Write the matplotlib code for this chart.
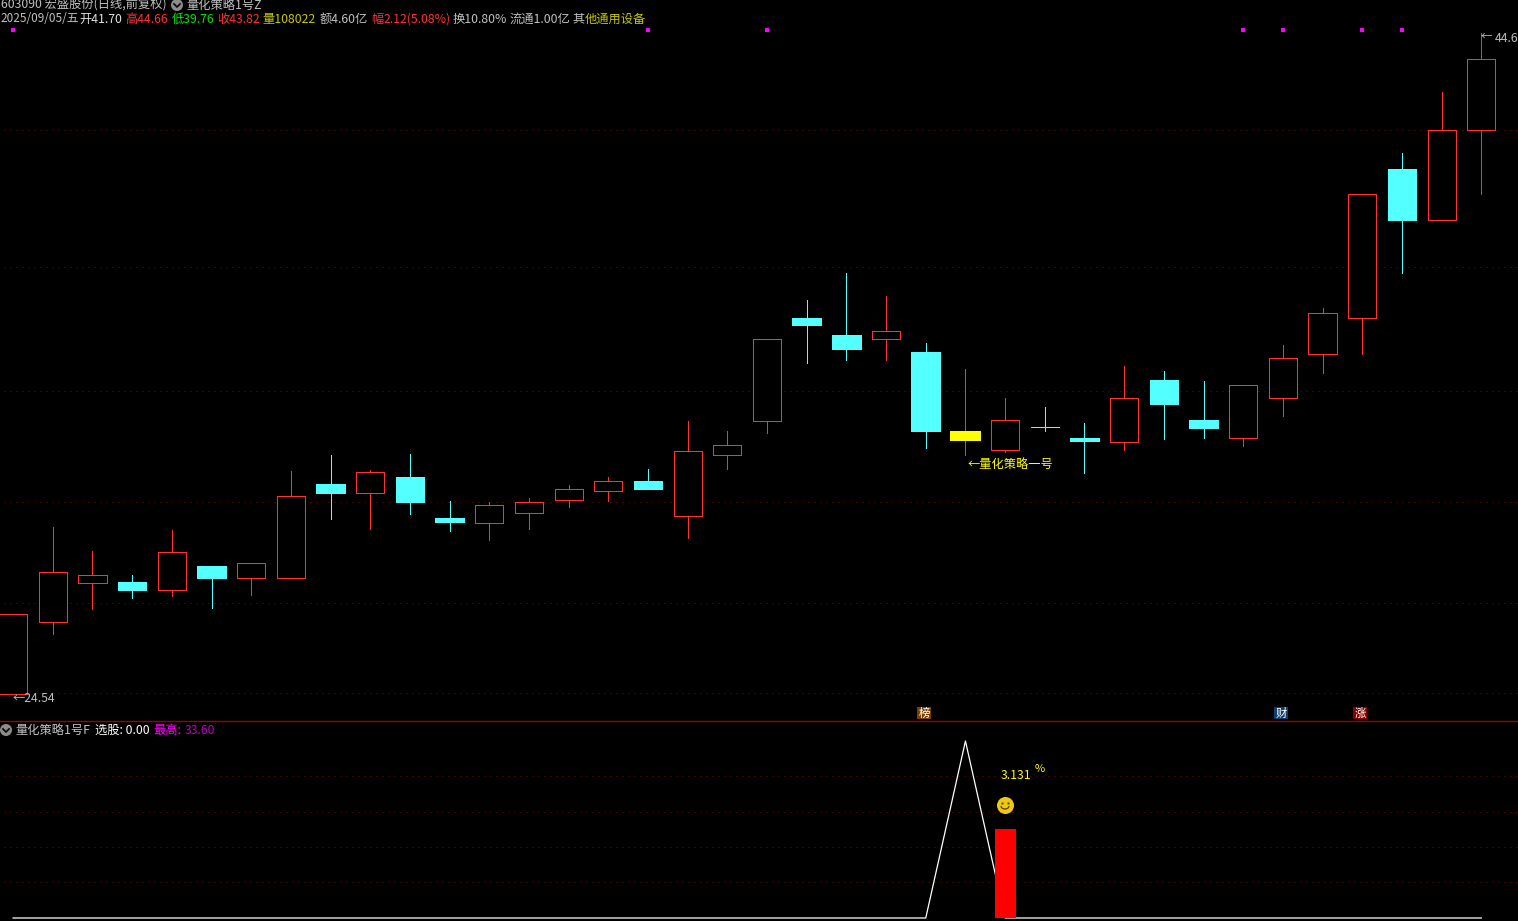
import matplotlib
matplotlib.use('Agg')
import matplotlib.pyplot as plt
from matplotlib.patches import Circle, Arc

plt.rcParams['font.family'] = ['Noto Sans CJK SC', 'DejaVu Sans']

# K线数据
opens = [24.54, 26.19, 27.13, 27.16, 26.96, 27.55, 27.26, 27.26, 29.68, 29.43,
         29.87, 28.78, 28.65, 28.91, 29.25, 29.49, 29.76, 28.83, 30.47, 31.43,
         34.50, 33.97, 33.84, 33.45, 30.86, 30.60, 31.25, 30.94, 30.83, 32.61,
         31.45, 30.94, 32.08, 33.39, 34.50, 39.49, 37.71, 40.91]
closes = [26.39, 27.40, 27.33, 26.96, 27.90, 27.26, 27.63, 29.35, 29.43, 30.00,
          29.20, 28.67, 29.11, 29.20, 29.54, 29.76, 29.54, 30.58, 30.74, 33.84,
          34.28, 33.54, 34.09, 31.14, 31.14, 31.45, 31.24, 30.86, 32.08, 31.90,
          31.22, 32.46, 33.27, 34.65, 38.60, 37.71, 40.91, 43.63]
highs = [26.39, 28.54, 27.93, 27.33, 28.47, 27.55, 27.63, 30.03, 30.47, 30.06,
         30.50, 29.22, 29.20, 29.30, 29.65, 29.87, 30.09, 31.43, 31.14, 33.84,
         35.06, 35.94, 35.19, 33.72, 32.94, 32.08, 31.82, 31.37, 33.03, 32.88,
         32.58, 32.46, 33.66, 34.81, 38.60, 40.06, 42.34, 44.66]
lows = [24.54, 25.90, 26.50, 26.76, 26.81, 26.52, 26.83, 27.26, 28.75, 28.49,
        28.88, 28.44, 28.21, 28.49, 29.07, 29.22, 29.54, 28.26, 30.09, 31.08,
        33.12, 33.21, 33.21, 30.66, 30.47, 30.55, 31.14, 29.98, 30.60, 30.91,
        30.94, 30.71, 31.57, 32.82, 33.39, 35.94, 37.71, 38.60]
yellow_days = [24]
dot_days = [0, 16, 19, 31, 32, 34, 35]
dot_price = 44.78
price_grid = [40.91, 36.12, 32.29, 29.20, 26.64, 24.55]

# 副图
pick_line = [0] * 38
pick_line[24] = 33.60
bar_day = 25
bar_value = 16.9
smile_value = 21.45
sub_grid = [26.96, 20.12, 13.48, 6.83]

RED = '#FF3232'
CYAN = '#54FFFF'
GRID = '#8A0000'
GRAY = '#C0C0C0'
OLIVE = '#C8C800'
W, H = 1518, 921
xlim = (-0.33, 37.925)
days = list(range(len(opens)))

fig = plt.figure(figsize=(W / 100, H / 100), dpi=100, facecolor='black')
ax = fig.add_axes([0, 1 - 721 / H, 1, 721 / H], facecolor='black')
sub = fig.add_axes([0, 0, 1, 200 / H], facecolor='black')
top = fig.add_axes([0, 0, 1, 1], facecolor='none')
top.set_xlim(0, W)
top.set_ylim(H, 0)
top.axis('off')

ax.set_yscale('log')
ax.set_xlim(*xlim)
ax.set_ylim(23.94, 46.02)
ax.axis('off')
sub.set_xlim(*xlim)
sub.set_ylim(-0.57, 37.4)
sub.axis('off')

dots = (0, (1, 5))
for p in price_grid:
    ax.plot([-0.24, xlim[1]], [p, p], color=GRID, lw=0.72, ls=dots, zorder=1)
for v in sub_grid:
    sub.plot([-0.24, xlim[1]], [v, v], color=GRID, lw=0.72, ls=dots, zorder=1)

for i in days:
    o, c, h, l = opens[i], closes[i], highs[i], lows[i]
    hi_body, lo_body = max(o, c), min(o, c)
    up = c >= o
    col = RED if up else CYAN
    ax.vlines(i, hi_body, h, color=col, lw=0.6, antialiased=False, zorder=2)
    ax.vlines(i, l, lo_body, color=col, lw=0.6, antialiased=False, zorder=2)
    if i in yellow_days:
        ax.bar(i, hi_body - lo_body, 0.76, bottom=lo_body, color='#FFFF00', lw=0, zorder=3)
    elif up:
        ax.bar(i, hi_body - lo_body, 0.71, bottom=lo_body, facecolor='black', edgecolor=col,
               lw=0.6, antialiased=False, zorder=3)
    else:
        ax.bar(i, hi_body - lo_body, 0.72, bottom=lo_body, color=col, edgecolor=col,
               lw=0.4, antialiased=False, zorder=3)

ax.scatter(dot_days, [dot_price] * len(dot_days), marker='s', s=7, color='#FF00FF', lw=0, zorder=4)

sub.plot(days, pick_line, color='white', lw=0.9, zorder=2)
sub.bar(bar_day, bar_value, 0.53, color='#FF0000', lw=0, zorder=3)
sub.scatter(bar_day, smile_value, s=150, color='#F0C814', lw=0, zorder=4)

# 分隔线
top.plot([0, W], [721, 721], color='#A00000', lw=1)


def label(x, y, s, color=GRAY, size=8.8, **kw):
    top.text(x, y, s, color=color, fontsize=size, va='center', ha='left', **kw)


def icon(x, y):
    top.add_patch(Circle((x, y), 6, color='#8C8C8C', lw=0))
    top.plot([x - 3, x, x + 3], [y - 1, y + 2, y - 1], color='black', lw=1.2)


# 第一行
label(1, 5, '603090 宏盛股份(日线,前复权)', size=8.8)
icon(177, 5)
label(186, 5, '量化策略1号Z', size=8.8)

# 第二行
label(0, 19, '2025/09/05/五', size=8.5)
label(79, 19, '开41.70', color='#E0E0E0')
label(125, 19, '高44.66', color='#FF3232')
label(172, 19, '低39.76', color='#00E600')
label(217, 19, '收43.82', color='#FF3232')
label(262, 19, '量108022', color=OLIVE)
label(320, 19, '额4.60亿')
label(371, 19, '幅', color='#FF3232')
label(384, 19, '2.12(5.08%)', color='#FF3232')
label(453, 19, '换10.80%')
label(510, 19, '流通1.00亿')
label(572, 19, '其', color=GRAY)
label(585, 19, '他通用设备', color=OLIVE)

label(13, 698, '←24.54')
label(1481, 37, '←', size=8.2)
label(1495, 38, '44.6')
label(968, 464, '←量化策略一号', color='#FFFF00')
label(1001, 775, '3.131', color='#FFFF00')
label(1035, 769, '%', color='#FFFF00', size=8)

# 副图标题
icon(6, 730)
label(15, 730, '量化策略1号F')
label(95, 730, '选股: 0.00', color='white')
label(153, 730, '最高:', color='#FF00FF')
label(185, 730, '33.60', color='#C000C0')

# 笑脸
top.plot([1002, 1008], [803, 803], ls='none', marker='s', ms=1.4, color='#604000', mew=0, zorder=6)
top.add_patch(Arc((1005, 806), 8, 6, theta1=0, theta2=180, color='#604000', lw=0.9, zorder=6))

# 榜 财 涨
for x, s, bg in [(924, '榜', '#7A4000'), (1281, '财', '#0F3F70'), (1360, '涨', '#8A0000')]:
    top.text(x, 713, s, color='white', fontsize=8.2, ha='center', va='center',
             bbox=dict(boxstyle='square,pad=0.08', fc=bg, ec='none'))

fig.savefig('out.png', dpi=100, facecolor='black')
